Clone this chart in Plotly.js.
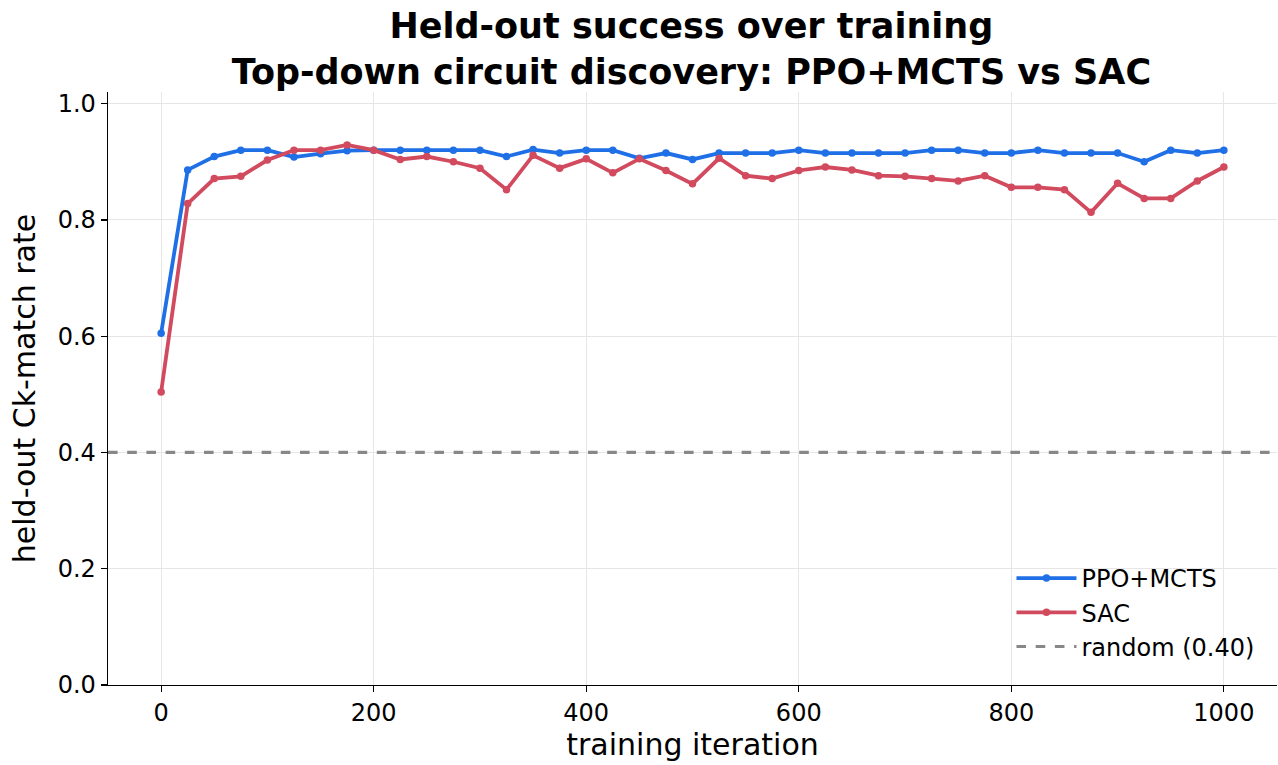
<!DOCTYPE html>
<html>
<head>
<meta charset="utf-8">
<script src="https://cdn.plot.ly/plotly-3.0.1.min.js"></script>
<style>html,body{margin:0;padding:0;background:#fff;}#chart{width:1278px;height:765px;}</style>
</head>
<body>
<div id="chart"></div>
<script>
const iterations = [0,25,50,75,100,125,150,175,200,225,250,275,300,325,350,375,400,425,450,475,500,525,550,575,600,625,650,675,700,725,750,775,800,825,850,875,900,925,950,975,1000];
const ppoMcts = [0.605,0.886,0.909,0.920,0.920,0.908,0.914,0.919,0.920,0.920,0.920,0.920,0.920,0.909,0.921,0.915,0.920,0.920,0.906,0.915,0.904,0.915,0.915,0.915,0.920,0.915,0.915,0.915,0.915,0.920,0.920,0.915,0.915,0.920,0.915,0.915,0.915,0.900,0.920,0.915,0.920];
const sac = [0.504,0.828,0.871,0.875,0.903,0.920,0.920,0.929,0.920,0.904,0.909,0.900,0.889,0.852,0.911,0.889,0.905,0.881,0.905,0.885,0.862,0.906,0.876,0.871,0.885,0.891,0.886,0.876,0.875,0.871,0.867,0.876,0.856,0.856,0.852,0.813,0.863,0.837,0.837,0.867,0.891];
const randomRate = 0.40;
const xRange = [-50, 1050];
const yRange = [0, 1.02];
const xTicks = [0,200,400,600,800,1000];
const yTicks = [0,0.2,0.4,0.6,0.8,1.0];

const font = "DejaVu Sans, sans-serif";
const traces = [
  {x: iterations, y: ppoMcts, name: 'PPO+MCTS', mode: 'lines+markers',
   line: {color: '#1f6fe6', width: 3.8}, marker: {color: '#1f6fe6', size: 7.5}},
  {x: iterations, y: sac, name: 'SAC', mode: 'lines+markers',
   line: {color: '#d14a5e', width: 3.8}, marker: {color: '#d14a5e', size: 7.5}},
  {x: xRange, y: [randomRate, randomRate], name: 'random (0.40)', mode: 'lines',
   line: {color: '#888888', width: 3.2, dash: 'dash'}, hoverinfo: 'skip'}
];
const layout = {
  width: 1278, height: 765,
  margin: {l: 108, r: 1, t: 92, b: 80},
  paper_bgcolor: '#fff', plot_bgcolor: '#fff',
  font: {family: font, color: '#000', size: 24},
  title: {text: '<b>Held-out success over training</b><br><b>Top-down circuit discovery: PPO+MCTS vs SAC</b>',
          font: {family: font, size: 35, color: '#000'}, x: 0.541, xanchor: 'center', y: 0.95, yanchor: 'top'},
  xaxis: {range: xRange, tickvals: xTicks, ticks: 'outside', ticklen: 6, tickwidth: 1.2, tickcolor: '#000',
          showline: true, linecolor: '#000', linewidth: 1.3, mirror: false, zeroline: false,
          showgrid: true, gridcolor: '#e6e6e6', gridwidth: 1,
          tickfont: {size: 24},
          title: {text: 'training iteration', font: {size: 30}, standoff: 6}},
  yaxis: {range: yRange, tickvals: yTicks, tickformat: '.1f', ticks: 'outside', ticklen: 6, tickwidth: 1.2, tickcolor: '#000',
          showline: true, linecolor: '#000', linewidth: 1.3, zeroline: false,
          showgrid: true, gridcolor: '#e6e6e6', gridwidth: 1,
          tickfont: {size: 24},
          title: {text: 'held-out Ck-match rate', font: {size: 30}, standoff: 13}},
  legend: {x: 0.985, y: 0.027, xanchor: 'right', yanchor: 'bottom', bgcolor: 'rgba(255,255,255,0)',
           font: {size: 24}, itemwidth: 60},
  showlegend: true
};
Plotly.newPlot('chart', traces, layout, {displayModeBar: false, staticPlot: true});
</script>
</body>
</html>
